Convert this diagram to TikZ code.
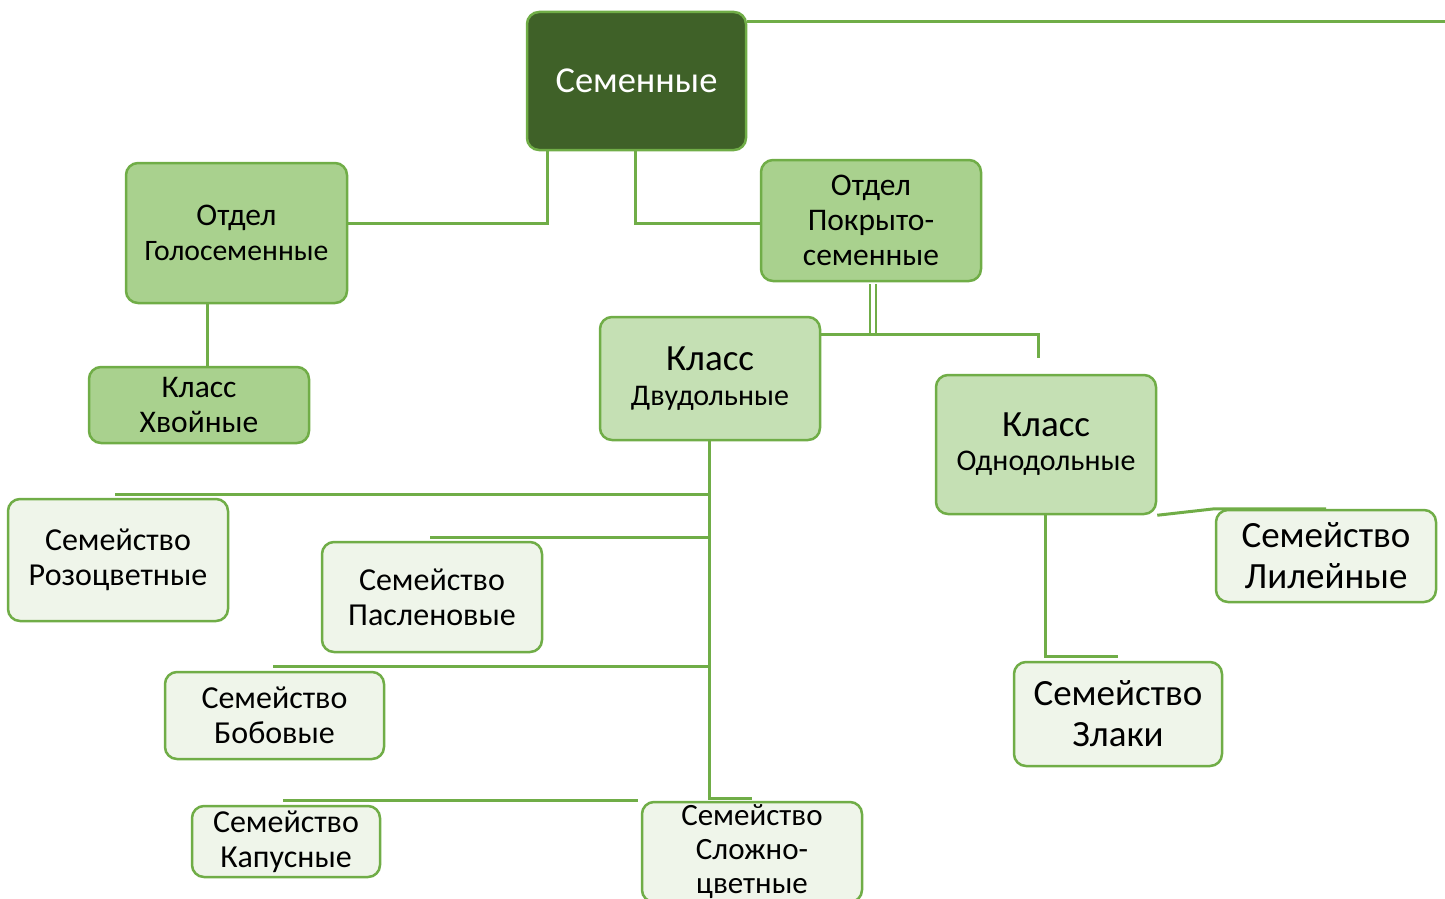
\documentclass[tikz,border=0pt]{standalone}
\usepackage{fontspec}
\setmainfont{Carlito}
\usetikzlibrary{positioning}
\definecolor{dkgreen}{HTML}{3F6128}
\definecolor{edgegreen}{HTML}{70AD47}
\definecolor{midgreen}{HTML}{A9D18E}
\definecolor{ltgreen}{HTML}{C5E0B4}
\definecolor{palegreen}{HTML}{EFF5EA}
\newcommand{\fs}[2]{\fontsize{#1}{#2}\selectfont}

\begin{document}
\begin{tikzpicture}[x=1pt,y=-1pt]
\tikzstyle{every node}=[draw=edgegreen, line width=2.5pt, rounded corners=12pt, align=center, inner sep=0pt]
\tikzstyle{rootbox}=[fill=dkgreen, text=white, font=\fs{36.5}{40}]
\tikzstyle{deptbox}=[fill=midgreen, font=\fs{31.5}{35}]
\tikzstyle{classbox}=[fill=ltgreen, font=\fs{30}{38}]
\tikzstyle{fambox}=[fill=palegreen, font=\fs{32}{35}]
\tikzstyle{bigfam}=[fill=palegreen, font=\fs{37}{41}]
\tikzstyle{link}=[edgegreen, line width=3pt]
\useasboundingbox (0,0) rectangle (1445,899);
\draw (636.5,81) node (sem) [rootbox, minimum width=219pt, minimum height=138pt] {Семенные};
\draw (236.5,233) node (gol) [deptbox, minimum width=221pt, minimum height=140pt] {{\fs{31.5}{34}Отдел}\\{\fs{29.7}{34}Голосеменные}};
\draw (871,220.5) node (pok) [deptbox, minimum width=220pt, minimum height=121pt] {Отдел\\Покрыто-\\семенные};
\draw (199,405) node (hvo) [deptbox, minimum width=220pt, minimum height=76pt] {Класс\\Хвойные};
\draw (710,378.5) node (dvu) [classbox, minimum width=220pt, minimum height=123pt] {{\fs{37}{38}Класс}\\[-3pt]Двудольные};
\draw (1046,444.5) node (odn) [classbox, font=\fs{30}{37}, minimum width=220pt, minimum height=139pt] {{\fs{37}{37}Класс}\\[-3pt]Однодольные};
\draw (118,560) node (roz) [fambox, minimum width=220pt, minimum height=122pt] {Семейство\\Розоцветные};
\draw (432,597) node (pas) [fambox, minimum width=220pt, minimum height=110pt] {Семейство\\Пасленовые};
\draw (274.5,715.5) node (bob) [fambox, minimum width=219pt, minimum height=87pt] {Семейство\\Бобовые};
\draw (286,841.5) node (kap) [fambox, minimum width=188pt, minimum height=71pt] {Семейство\\Капусные};
\draw (752,852) node (slo) [fambox, font=\fs{31}{34}, minimum width=220pt, minimum height=100pt] {Семейство\\Сложно-\\цветные};
\draw (1326,556) node (lil) [bigfam, minimum width=220pt, minimum height=92pt] {Семейство\\Лилейные};
\draw (1118,714) node (zla) [bigfam, minimum width=208pt, minimum height=104pt] {Семейство\\Злаки};
\coordinate (edge) at (1445,22);
\coordinate (fork) at (873,334);
\coordinate (odnin) at (1038,358);
\coordinate (trunkend) at (709,798);
\draw[link] (edge -| sem.east) -- (edge);
\draw[link] ([xshift=-89pt]sem.south) |- ([yshift=10pt]gol.east);
\draw[link] ([xshift=-1.5pt]sem.south) |- ([yshift=-2.5pt]pok.west);
\draw[link] ([xshift=-29pt]gol.south) -- +(0,64);
\draw[link, line width=2.4pt, double=white, double distance=3.5pt] ([xshift=2pt,yshift=-1.5pt]pok.south) -- (fork);
\draw[link] (fork -| dvu.east) -| (odnin);
\draw[link] ([xshift=-1pt]dvu.south) -- (trunkend) -- (trunkend -| slo.north);
\draw[link] ([xshift=-1pt]dvu.south) |- ([xshift=-3pt,yshift=3pt]roz.north);
\draw[link] ([xshift=-1pt]dvu.south) |- ([xshift=-2pt,yshift=3pt]pas.north);
\draw[link] ([xshift=-1pt]dvu.south) |- ([xshift=-2pt,yshift=4pt]bob.north);
\draw[link] ([xshift=-3pt,yshift=4pt]kap.north) -- ([xshift=-3pt,yshift=4pt]kap.north -| slo.west);
\draw[link] (odn.south east) -- (lil.north west) -- (lil.north);
\draw[link] ([xshift=-1pt]odn.south) |- ([yshift=4pt]zla.north);
\end{tikzpicture}
\end{document}
